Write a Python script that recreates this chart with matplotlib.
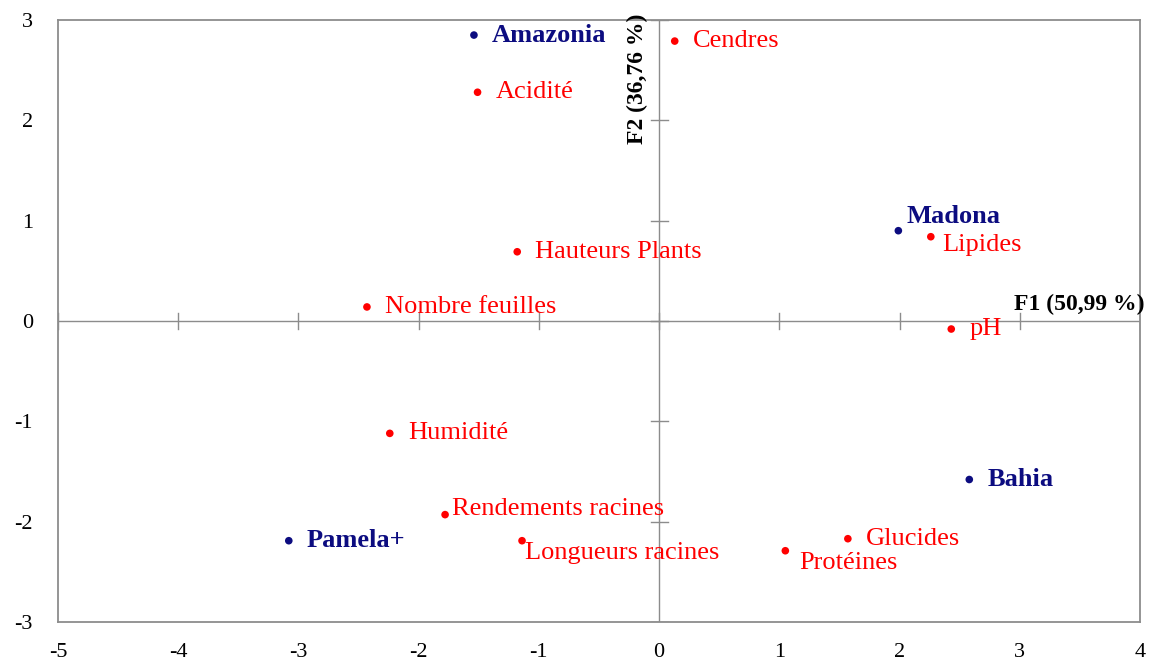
import matplotlib.pyplot as plt

# Observations (varieties)
obs_names = ['Amazonia', 'Madona', 'Bahia', 'Pamela+']
obs_f1 = [-1.54, 1.99, 2.58, -3.08]
obs_f2 = [2.85, 0.90, -1.58, -2.19]

# Variables
var_names = ['Cendres', 'Acidité', 'Lipides', 'Hauteurs Plants', 'Nombre feuilles',
             'pH', 'Humidité', 'Rendements racines', 'Longueurs racines',
             'Glucides', 'Protéines']
var_f1 = [0.13, -1.51, 2.26, -1.18, -2.43, 2.43, -2.24, -1.78, -1.14, 1.57, 1.05]
var_f2 = [2.79, 2.28, 0.84, 0.69, 0.14, -0.08, -1.12, -1.93, -2.19, -2.17, -2.29]

x_ticks = [-5, -4, -3, -2, -1, 0, 1, 2, 3, 4]
y_ticks = [-3, -2, -1, 0, 1, 2, 3]

# label offsets in points (dx, dy), default is to the right of the dot
offsets = {
    'Madona': (6, 10),
    'Lipides': (8, -6),
    'Rendements racines': (5, 4),
    'Longueurs racines': (2, -9),
    'Protéines': (10, -9),
}
default_off = (13, 0)

plt.rcParams['font.family'] = ['Liberation Serif', 'DejaVu Serif']
plt.rcParams['axes.unicode_minus'] = False

fig = plt.figure(figsize=(11.52, 6.67), dpi=100)
ax = fig.add_axes([0.0503, 0.0675, 0.9393, 0.9025])

navy = '#0c0c80'
red = '#ff0000'
grey = '#8c8c8c'

ax.set_xlim(-5, 4)
ax.set_ylim(-3, 3)

# central axes
ax.axhline(0, color=grey, lw=1, zorder=1)
ax.axvline(0, color=grey, lw=1, zorder=1)
for xt in x_ticks:
    ax.plot([xt, xt], [-0.08, 0.08], color=grey, lw=1, zorder=1)
for yt in y_ticks:
    ax.plot([-0.07, 0.07], [yt, yt], color=grey, lw=1, zorder=1)

ax.scatter(var_f1, var_f2, s=30, color=red, zorder=3, edgecolors='none')
ax.scatter(obs_f1, obs_f2, s=30, color=navy, zorder=3, edgecolors='none')

for name, x, y in zip(var_names, var_f1, var_f2):
    dx, dy = offsets.get(name, default_off)
    ax.annotate(name, (x, y), xytext=(dx, dy), textcoords='offset points',
                ha='left', va='center', color=red, fontsize=19)

for name, x, y in zip(obs_names, obs_f1, obs_f2):
    dx, dy = offsets.get(name, default_off)
    ax.annotate(name, (x, y), xytext=(dx, dy), textcoords='offset points',
                ha='left', va='center', color=navy, fontsize=19, fontweight='bold')

# axis titles
ax.text(4.04, 0.06, 'F1 (50,99 %)', ha='right', va='bottom', fontsize=17,
        fontweight='bold', clip_on=False)
ax.text(-0.09, 3.06, 'F2 (36,76 %)', ha='right', va='top', rotation=90,
        fontsize=17, fontweight='bold', clip_on=False)

ax.set_xticks(x_ticks)
ax.set_yticks(y_ticks)
ax.tick_params(length=0, labelsize=16)
ax.tick_params(axis='x', pad=15)
ax.tick_params(axis='y', pad=18)

for sp in ax.spines.values():
    sp.set_color(grey)
    sp.set_linewidth(1.3)

fig.savefig('out.png', dpi=100)
